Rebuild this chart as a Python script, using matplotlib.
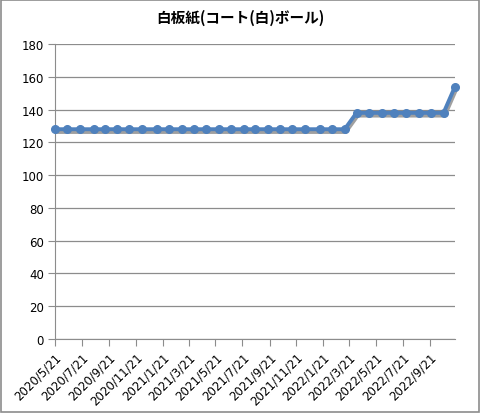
import matplotlib
matplotlib.use('Agg')
import matplotlib.pyplot as plt
import matplotlib.transforms as mtransforms
from datetime import datetime

plt.rcParams['font.family'] = ['DejaVu Sans', 'Noto Sans CJK JP']

title = '白板紙(コート(白)ボール)'

dates = ['2020-05-21', '2020-06-18', '2020-07-16', '2020-08-17', '2020-09-11',
         '2020-10-08', '2020-11-05', '2020-12-05', '2021-01-07', '2021-02-04',
         '2021-03-06', '2021-04-02', '2021-04-30', '2021-05-28', '2021-06-26',
         '2021-07-24', '2021-08-19', '2021-09-17', '2021-10-15', '2021-11-11',
         '2021-12-11', '2022-01-13', '2022-02-11', '2022-03-11', '2022-04-07',
         '2022-05-06', '2022-06-03', '2022-07-01', '2022-07-28', '2022-08-28',
         '2022-09-23', '2022-10-22', '2022-11-17']
values = [128] * 24 + [138] * 8 + [154]

tick_dates = ['2020-05-21', '2020-07-21', '2020-09-21', '2020-11-21',
              '2021-01-21', '2021-03-21', '2021-05-21', '2021-07-21',
              '2021-09-21', '2021-11-21', '2022-01-21', '2022-03-21',
              '2022-05-21', '2022-07-21', '2022-09-21']

x = [datetime.strptime(d, '%Y-%m-%d') for d in dates]
xt = [datetime.strptime(d, '%Y-%m-%d') for d in tick_dates]

fig = plt.figure(figsize=(4.8, 4.14), dpi=100)
ax = fig.add_axes([55/480, 1 - 340/414, 400/480, 295/414])

blue = '#4F81BD'
# soft shadow under the line
shadow = mtransforms.offset_copy(ax.transData, fig=fig, x=1.0, y=-2.5, units='dots')
ax.plot(x, values, color='#a0a0a0', lw=3.2, transform=shadow, zorder=2,
        solid_capstyle='round', clip_on=False)
ax.plot(x, values, color=blue, lw=2.8, marker='o', ms=5.5,
        markerfacecolor=blue, markeredgecolor=blue, zorder=3, clip_on=False)

ax.set_ylim(0, 180)
ax.set_yticks(range(0, 181, 20))
ax.set_xlim(x[0], x[-1])
ax.set_xticks(xt)
ax.set_xticklabels([f'{d.year}/{d.month}/{d.day}' for d in xt], rotation=45,
                   ha='right', rotation_mode='anchor')

ax.grid(axis='y', color='#8c8c8c', lw=0.9)
ax.set_axisbelow(True)
for s in ['top', 'right']:
    ax.spines[s].set_visible(False)
for s in ['left', 'bottom']:
    ax.spines[s].set_color('#8c8c8c')
ax.tick_params(axis='both', direction='out', length=5, color='#8c8c8c',
               labelsize=8.5, labelcolor='black', pad=3)

fig.text(0.5, 1 - 18/414, title, ha='center', va='center', fontsize=10.5,
         fontweight='bold', family=['Noto Sans CJK JP', 'DejaVu Sans'])

# outer border like the Excel chart area
border = plt.Rectangle((0.002, 0.002), 0.996, 0.996, transform=fig.transFigure,
                       fill=False, edgecolor='#8c8c8c', lw=1.2)
fig.patches.append(border)

fig.savefig('out.png', dpi=100)
